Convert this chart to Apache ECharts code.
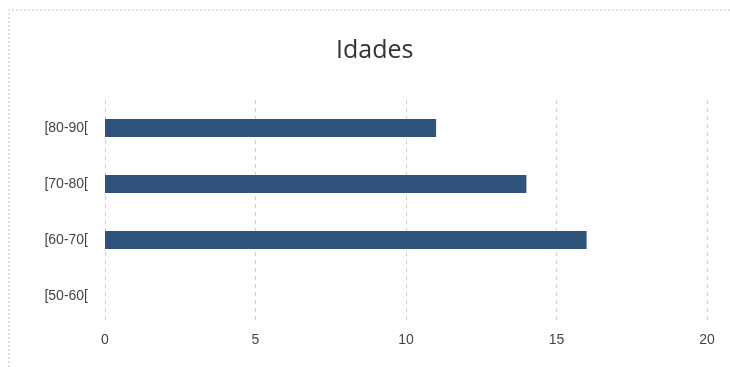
<!DOCTYPE html>
<html>
<head>
<meta charset="utf-8">
<script src="https://cdn.jsdelivr.net/npm/echarts@6/dist/echarts.min.js"></script>
<style>html,body{margin:0;padding:0;background:#fff}#c{width:730px;height:367px}</style>
</head>
<body>
<div id="c"></div>
<script>
const categories = ['[50-60[', '[60-70[', '[70-80[', '[80-90['];
const values = [0, 16, 14, 11];
const xTicks = { min: 0, max: 20, interval: 5 };
const titleText = 'Idades';

const chart = echarts.init(document.getElementById('c'), null, { renderer: 'canvas' });
chart.setOption({
  backgroundColor: '#ffffff',
  animation: false,
  title: {
    text: titleText,
    left: 331,
    top: 33,
    textStyle: { fontFamily: 'Open Sans', fontSize: 25, fontWeight: 'normal', color: '#333' }
  },
  graphic: [{
    type: 'polyline',
    shape: { points: [[9, 367], [9, 10], [730, 10]] },
    style: { stroke: '#c0c0c0', lineWidth: 1, lineDash: [2, 2], fill: null },
    silent: true
  }],
  grid: { left: 105, right: 23, top: 100, bottom: 43 },
  xAxis: {
    type: 'value',
    min: xTicks.min, max: xTicks.max, interval: xTicks.interval,
    axisLine: { show: false },
    axisTick: { show: false },
    axisLabel: { color: '#444', fontFamily: 'Liberation Sans', fontSize: 14, margin: 9 },
    splitLine: { show: true, lineStyle: { color: '#d0d0d0', type: [4, 4], width: 1 } }
  },
  yAxis: {
    type: 'category',
    data: categories,
    axisLine: { show: false },
    axisTick: { show: false },
    axisLabel: { color: '#444', fontFamily: 'Liberation Sans', fontSize: 14, margin: 17 }
  },
  series: [{
    type: 'bar',
    data: values,
    barWidth: 18,
    itemStyle: { color: '#30537b' }
  }]
});
</script>
</body>
</html>
